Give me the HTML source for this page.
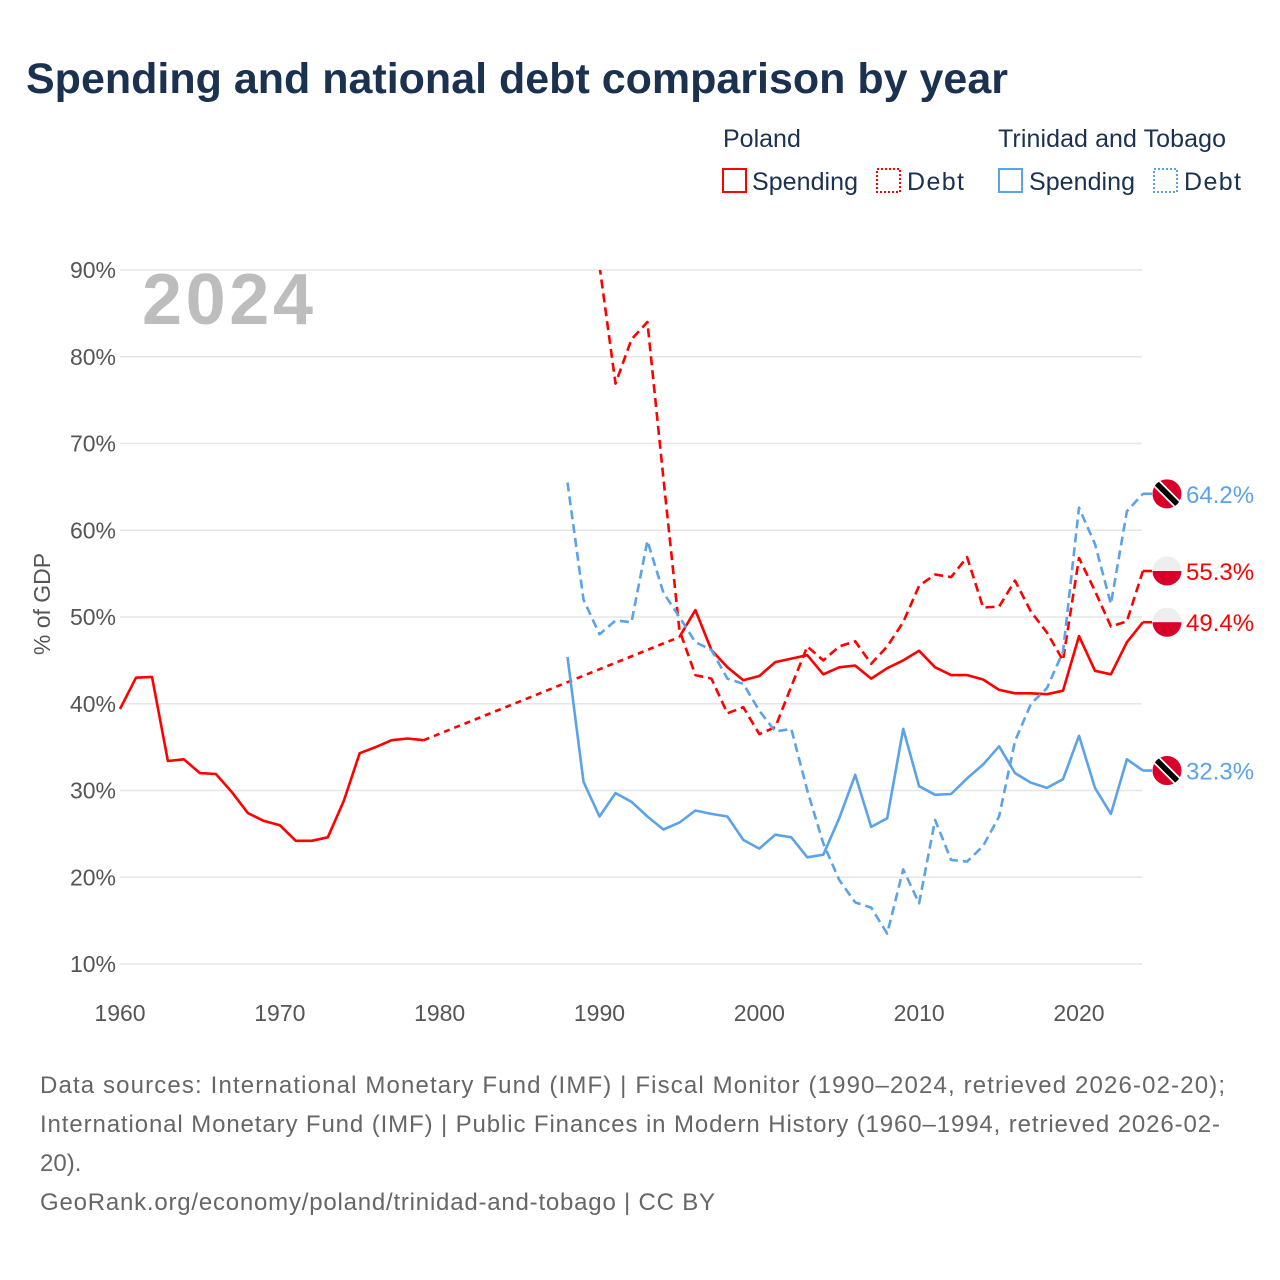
<!DOCTYPE html>
<html><head><meta charset="utf-8">
<style>
body{margin:0;background:#fff;font-family:"Liberation Sans",sans-serif;}
#wrap{position:relative;width:1280px;height:1280px;overflow:hidden;}
</style></head>
<body>
<div id="wrap">
<svg id="chart" width="1280" height="1280" xmlns="http://www.w3.org/2000/svg">
<text x="26" y="93" font-size="43" font-weight="bold" fill="#1b3150">Spending and national debt comparison by year</text>
<g font-size="25" fill="#1b3150">
<text x="723" y="147">Poland</text>
<rect x="723" y="169" width="23" height="23" fill="none" stroke="#f00" stroke-width="2"/>
<text x="752" y="190" textLength="106">Spending</text>
<rect x="877" y="169" width="23" height="23" fill="none" stroke="#f00" stroke-width="2" stroke-dasharray="2 2"/>
<text x="907" y="190" textLength="57">Debt</text>
<text x="998" y="147" textLength="228">Trinidad and Tobago</text>
<rect x="999" y="169" width="23" height="23" fill="none" stroke="#5ba3e8" stroke-width="2"/>
<text x="1029" y="190" textLength="106">Spending</text>
<rect x="1154" y="169" width="23" height="23" fill="none" stroke="#5ba3e8" stroke-width="2" stroke-dasharray="2 2"/>
<text x="1184" y="190" textLength="57">Debt</text>
</g>
<text x="142" y="324" font-size="72" font-weight="bold" fill="#bdbdbd" textLength="171">2024</text>
<text transform="translate(50,604) rotate(-90)" text-anchor="middle" font-size="23" fill="#555">% of GDP</text>
<g id="grid"></g><g id="xt"></g><g id="series"></g><g id="ends"></g>
<g font-size="24" fill="#666">
<text x="40" y="1093" textLength="1185">Data sources: International Monetary Fund (IMF) | Fiscal Monitor (1990–2024, retrieved 2026-02-20);</text>
<text x="40" y="1132" textLength="1180">International Monetary Fund (IMF) | Public Finances in Modern History (1960–1994, retrieved 2026-02-</text>
<text x="40" y="1171">20).</text>
<text x="40" y="1210" textLength="675">GeoRank.org/economy/poland/trinidad-and-tobago | CC BY</text>
</g>
</svg>
</div>
<script>
const yTicks=[10,20,30,40,50,60,70,80,90];
const xTicks=[1960,1970,1980,1990,2000,2010,2020];
const plSpendYears1=[1960,1961,1962,1963,1964,1965,1966,1967,1968,1969,1970,1971,1972,1973,1974,1975,1976,1977,1978,1979];
const plSpend1=[39.4,43,43.1,33.4,33.6,32,31.9,29.8,27.4,26.5,26,24.2,24.2,24.6,28.8,34.3,35,35.8,36,35.8];
const plSpendYears2=[1995,1996,1997,1998,1999,2000,2001,2002,2003,2004,2005,2006,2007,2008,2009,2010,2011,2012,2013,2014,2015,2016,2017,2018,2019,2020,2021,2022,2023,2024];
const plSpend2=[47.7,50.8,46.2,44.2,42.7,43.2,44.8,45.2,45.6,43.4,44.2,44.4,42.9,44.1,45,46.1,44.2,43.3,43.3,42.8,41.6,41.2,41.2,41.1,41.5,47.8,43.8,43.4,47.1,49.4];
const plDebtYears=[1990,1991,1992,1993,1994,1995,1996,1997,1998,1999,2000,2001,2002,2003,2004,2005,2006,2007,2008,2009,2010,2011,2012,2013,2014,2015,2016,2017,2018,2019,2020,2021,2022,2023,2024];
const plDebt=[90.5,76.9,82,84,66,48.5,43.3,42.9,38.9,39.6,36.5,37.3,42,46.6,45,46.6,47.2,44.6,46.6,49.4,53.6,54.9,54.6,56.9,51.1,51.2,54.2,50.6,48.2,45,56.8,53,48.9,49.5,55.3];
const ttYears=[1988,1989,1990,1991,1992,1993,1994,1995,1996,1997,1998,1999,2000,2001,2002,2003,2004,2005,2006,2007,2008,2009,2010,2011,2012,2013,2014,2015,2016,2017,2018,2019,2020,2021,2022,2023,2024];
const ttSpend=[45.4,31,27,29.7,28.7,27,25.5,26.3,27.7,27.3,27,24.3,23.3,24.9,24.6,22.3,22.6,26.8,31.8,25.8,26.8,37.1,30.5,29.5,29.6,31.4,33,35.1,32,30.9,30.3,31.3,36.3,30.3,27.3,33.6,32.3];
const ttDebt=[65.5,52,48,49.6,49.4,58.8,52.8,50,47.1,46.2,42.9,42.3,39.2,36.8,37.1,30,23.9,19.7,17.1,16.5,13.5,20.9,17,26.6,22,21.8,23.6,27,35.7,40,41.8,46,62.6,58.4,51.5,62.2,64.2];
const endLabels=[64.2,55.3,49.4,32.3];

const NS="http://www.w3.org/2000/svg";
const X=y=>120+(y-1960)*15.983;
const Y=v=>964-(v-10)*8.675;
function mk(t,a,p){const e=document.createElementNS(NS,t);for(const k in a)e.setAttribute(k,a[k]);p.appendChild(e);return e;}
const grid=document.getElementById('grid');
yTicks.forEach(v=>{
 const l=mk('line',{x1:120,x2:1142,y1:Y(v),y2:Y(v),stroke:'#e6e6e6','stroke-width':1.5},grid);
 
 
 const t=mk('text',{x:116,y:Y(v)+8,'text-anchor':'end','font-size':23,fill:'#555'},grid);
 t.textContent=v+'%';
 
 
});
const xt=document.getElementById('xt');
xTicks.forEach(v=>{
 const t=mk('text',{x:X(v),y:1021,'text-anchor':'middle','font-size':23,fill:'#555'},xt);
 t.textContent=v;
 
 
});
const defs=mk('defs',{},document.getElementById('chart'));
const cp=mk('clipPath',{id:'plot'},defs);mk('rect',{x:100,y:Y(90),width:1100,height:800},cp);
const S=document.getElementById('series');S.setAttribute('clip-path','url(#plot)');
function line(xs,vs,col,dash,name){
 let d=xs.map((x,i)=>(i?'L':'M')+X(x).toFixed(1)+','+Y(vs[i]).toFixed(1)).join('');
 const p=mk('path',{d:d,fill:'none',stroke:col,'stroke-width':2.6,'stroke-linejoin':'round'},S);
 if(dash)p.setAttribute('stroke-dasharray',dash);
 
 
 return p;
}
const RED='#f00',BLUE='#5ba3e8';
line(plSpendYears1,plSpend1,RED,null,'poland-spending-line-early');
line([plSpendYears1[plSpendYears1.length-1],plSpendYears2[0]],[plSpend1[plSpend1.length-1],plSpend2[0]],RED,'6 5','poland-spending-gap');
line(plSpendYears2,plSpend2,RED,null,'poland-spending-line');
line(plDebtYears,plDebt,RED,'9 5','poland-debt-line');
line(ttYears,ttSpend,BLUE,null,'tt-spending-line');
line(ttYears,ttDebt,BLUE,'9 5','tt-debt-line');
const E=document.getElementById('ends');
const endCfg=[[ttDebt,BLUE,'tt','9 5','tt-debt'],[plDebt,RED,'pl','9 5','poland-debt'],[plSpend2,RED,'pl',null,'poland-spending'],[ttSpend,BLUE,'tt',null,'tt-spending']];
endCfg.forEach((c,i)=>{
 const v=c[0][c[0].length-1];const y=Y(v);
 const l=mk('line',{x1:X(2024),x2:1152,y1:y,y2:y,stroke:c[1],'stroke-width':2.6},E);
 
 
 const g=mk('g',{},E);
 
 
 const id='fc'+i;const cc=mk('clipPath',{id:id},defs);mk('circle',{cx:1167,cy:y,r:14.5},cc);
 const gg=mk('g',{'clip-path':'url(#'+id+')'},g);
 if(c[2]==='pl'){mk('rect',{x:1150,y:y-16,width:34,height:16,fill:'#eee'},gg);mk('rect',{x:1150,y:y,width:34,height:16,fill:'#d8002a'},gg);}
 else{mk('rect',{x:1150,y:y-16,width:34,height:32,fill:'#d8002a'},gg);
  mk('line',{x1:1154,y1:y-13,x2:1180,y2:y+13,stroke:'#fff','stroke-width':9},gg);
  mk('line',{x1:1154,y1:y-13,x2:1180,y2:y+13,stroke:'#000','stroke-width':5.5},gg);}
 const t=mk('text',{x:1186,y:y+9,'font-size':24,fill:c[1]},E);
 t.textContent=endLabels[i].toFixed(1)+'%';
 
 
});
</script>
</body></html>
